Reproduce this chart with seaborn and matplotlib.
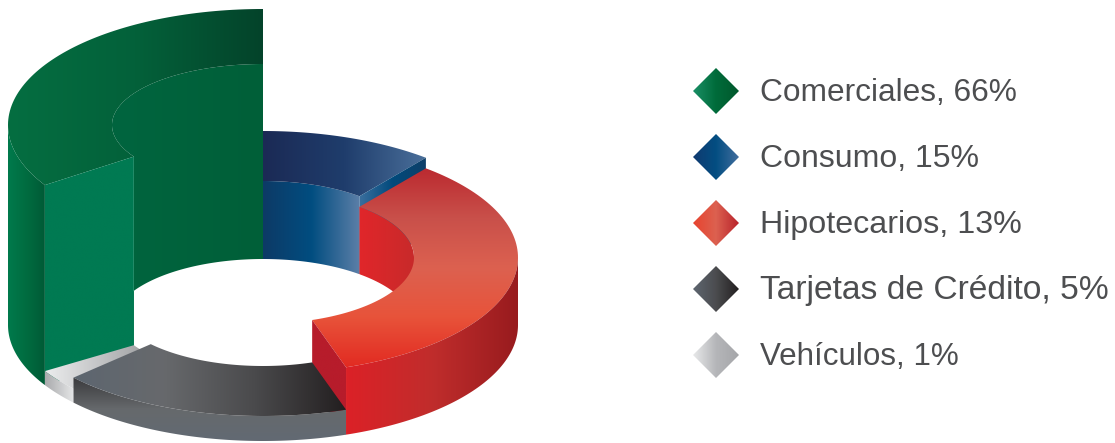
import numpy as np
import matplotlib
matplotlib.use("Agg")
import matplotlib.pyplot as plt
from matplotlib.patches import Polygon
import seaborn as sns

# Loan portfolio by product
categories = ["Comerciales", "Consumo", "Hipotecarios", "Tarjetas de Crédito", "Vehículos"]
shares = [66, 15, 13, 5, 1]
legend_labels = ["Comerciales, 66%", "Consumo, 15%", "Hipotecarios, 13%",
                 "Tarjetas de Crédito, 5%", "Vehículos, 1%"]

# Ring projection, in pixels
CX, CY = 263, 325
OUTER_RX, OUTER_RY = 255, 116
INNER_RX, INNER_RY = 151, 66
TALL_TOP_INNER_RY = 61

# Slice height grows with the share through a piecewise-linear scale; the sweep
# is a design choice of this infographic and does not follow the shares.
HEIGHT_DOMAIN = [1, 5, 15, 66]
HEIGHT_RANGE = [14, 25, 78, 200]
SWEEP_DEG = [121.2, 39.7, 121.3, 67.0, 10.8]
START_DEG = -121.2

LEGEND_X, LEGEND_TOP, LEGEND_STEP, DIAMOND_R = 716, 91, 66, 23
LEGEND_FONT_SIZES = [22.8, 23.0, 23.2, 24.2, 22.6]

STYLES = {
    "Comerciales": dict(top=["#056e41", "#03613a", "#03432a"],
                        outer=["#007a4c", "#006c40", "#005a36"],
                        inner=["#00653f", "#005f38"],
                        face=["#007a52", "#007a52"],
                        key=["#1a8f66", "#006b3a", "#00582c"]),
    "Consumo": dict(top=["#1b2a55", "#1f3d6c", "#4a6f9a"],
                    inner=["#0d3a66", "#014d80", "#5c7fa8"],
                    face=["#3b6f9e", "#014a7c", "#0f3f68"],
                    key=["#103a70", "#034e82", "#426e9e"]),
    "Hipotecarios": dict(top=["#bb2a30", "#c9504a", "#dc6150", "#e8533a", "#e22b22"],
                         outer=["#dc2127", "#c02d2c", "#981b1e"],
                         inner=["#e1262a", "#c82a2a"],
                         face=["#b71c2b", "#b71c2b"],
                         key=["#e8432e", "#dc6150", "#b9232c"]),
    "Tarjetas de Crédito": dict(top=["#5d6670", "#67696c", "#4a4a4c", "#231f20"],
                                outer=["#3a3a3c", "#66696c", "#626a73"],
                                key=["#5e6670", "#4b4c4f", "#231f20"]),
    "Vehículos": dict(top=["#ecedee", "#9d9ea0"],
                      outer=["#a9aaac", "#e6e7e8"],
                      key=["#e8e9ea", "#b5b6b9", "#a5a6a9"]),
}

sns.set_theme(style="white")
plt.rcParams["font.family"] = ["Liberation Sans", "DejaVu Sans"]

fig = plt.figure(figsize=(11.15, 4.43), dpi=100)
ax = fig.add_axes([0, 0, 1, 1])


def arc(t0, t1, rx, ry, lift):
    t = np.radians(np.linspace(t0, t1, 90))
    return np.column_stack([CX + rx * np.sin(t), CY - lift - ry * np.cos(t)])


def paint(points, stops, vertical=False):
    """Fill a polygon with a linear gradient spanning its bounding box."""
    points = np.asarray(points)
    x0, y0 = points.min(axis=0)
    x1, y1 = points.max(axis=0)
    ramp = np.linspace(0, 1, 256)
    ramp = ramp.reshape(-1, 1) if vertical else ramp.reshape(1, -1)
    cmap = sns.blend_palette(stops, n_colors=256, as_cmap=True)
    image = ax.imshow(ramp, cmap=cmap, extent=(x0, x1, y1, y0), aspect="auto",
                      interpolation="bilinear", vmin=0, vmax=1, zorder=2)
    image.set_clip_path(Polygon(points, closed=True, transform=ax.transData))


def top_face(t0, t1, lift, inner_ry=INNER_RY):
    return np.vstack([arc(t0, t1, OUTER_RX, OUTER_RY, lift),
                      arc(t1, t0, INNER_RX, inner_ry, lift)])


def outer_wall(t0, t1, lift):
    return np.vstack([arc(t0, t1, OUTER_RX, OUTER_RY, lift),
                      arc(t1, t0, OUTER_RX, OUTER_RY, 0)])


def inner_wall(t0, t1, lift, inner_ry=INNER_RY):
    return np.vstack([arc(t0, t1, INNER_RX, inner_ry, lift),
                      arc(t1, t0, INNER_RX, INNER_RY, 0)])


def cut_face(t, lift, inner_ry=INNER_RY):
    return np.vstack([arc(t, t, INNER_RX, inner_ry, lift)[:1],
                      arc(t, t, OUTER_RX, OUTER_RY, lift)[:1],
                      arc(t, t, OUTER_RX, OUTER_RY, 0)[:1],
                      arc(t, t, INNER_RX, INNER_RY, 0)[:1]])


edges = START_DEG + np.concatenate([[0], np.cumsum(SWEEP_DEG)])
spans = dict(zip(categories, zip(edges[:-1], edges[1:])))
heights = dict(zip(categories, np.interp(shares, HEIGHT_DOMAIN, HEIGHT_RANGE)))

# Consumo, at the back on the right
name = "Consumo"
s, (a, b), h = STYLES[name], spans[name], heights[name]
paint(inner_wall(a, b, h), s["inner"])
paint(top_face(a, b, h), s["top"])
paint(cut_face(b, h), s["face"])

# Hipotecarios
name = "Hipotecarios"
s, (a, b), h = STYLES[name], spans[name], heights[name]
paint(inner_wall(a, 90, h), s["inner"])
paint(top_face(a, b, h), s["top"], vertical=True)
paint(outer_wall(90, b, h), s["outer"])
paint(cut_face(b, h), s["face"])

# Comerciales, the tall slice on the left
name = "Comerciales"
s, (a, b), h = STYLES[name], spans[name], heights[name]
paint(inner_wall(a, b, h, TALL_TOP_INNER_RY), s["inner"])
paint(top_face(a, b, h, TALL_TOP_INNER_RY), s["top"])
paint(outer_wall(a, -90, h), s["outer"])
paint(cut_face(a, h, TALL_TOP_INNER_RY), s["face"])

# Vehículos, then Tarjetas de Crédito in front of it
name = "Vehículos"
s, (a, b), h = STYLES[name], spans[name], heights[name]
paint(top_face(a, b, h), s["top"])
paint(outer_wall(a, b, h), s["outer"])

name = "Tarjetas de Crédito"
s, (a, b), h = STYLES[name], spans[name], heights[name]
paint(outer_wall(a, b, h), s["outer"], vertical=True)
paint(top_face(a, b, h), s["top"])

# Legend: gradient diamonds with their labels
for i, (name, label) in enumerate(zip(categories, legend_labels)):
    y = LEGEND_TOP + i * LEGEND_STEP
    diamond = [(LEGEND_X - DIAMOND_R, y), (LEGEND_X, y - DIAMOND_R),
               (LEGEND_X + DIAMOND_R, y), (LEGEND_X, y + DIAMOND_R)]
    paint(diamond, STYLES[name]["key"])
    ax.text(760, y + 2, label, fontsize=LEGEND_FONT_SIZES[i], color="#4d4e50",
            va="center", ha="left")

ax.set_xlim(0, 1115)
ax.set_ylim(443, 0)
ax.axis("off")
fig.savefig("out.png", dpi=100, facecolor="white")
